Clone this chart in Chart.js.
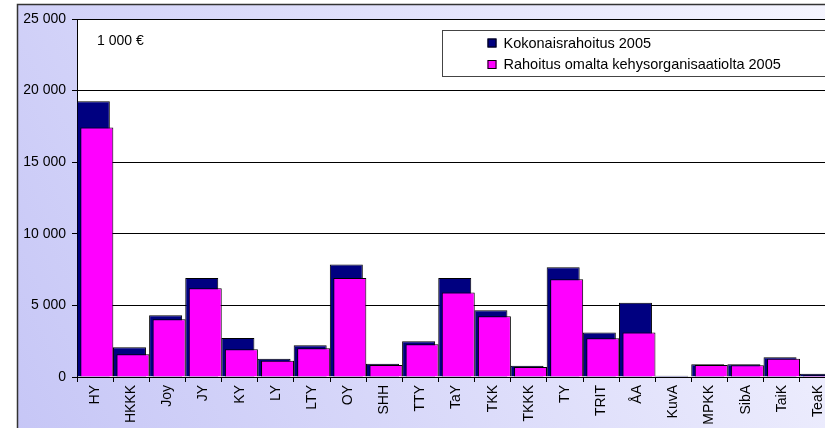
<!DOCTYPE html>
<html>
<head>
<meta charset="utf-8">
<script src="https://cdn.jsdelivr.net/npm/chart.js@4"></script>
<style>
  html, body { margin: 0; padding: 0; background: #ffffff; overflow: hidden; }
  #wrap { width: 825px; height: 428px; overflow: hidden; position: relative; }
  canvas { display: block; }
</style>
</head>
<body>
<div id="wrap"><canvas id="c" width="850" height="445"></canvas></div>
<script>
const categories = ['HY','HKKK','Joy','JY','KY','LY','LTY','OY','SHH','TTY','TaY','TKK','TKKK','TY','TRIT','ÅA','KuvA','MPKK','SibA','TaiK','TeaK'];
const totalFunding = [19250, 2080, 4320, 6910, 2730, 1280, 2220, 7850, 930, 2500, 6910, 4670, 790, 7660, 3100, 5180, 90, 890, 890, 1380, 230];
const ownFunding = [17430, 1590, 4040, 6190, 1940, 1140, 2010, 6910, 840, 2290, 5900, 4250, 700, 6830, 2710, 3100, 20, 840, 820, 1280, 120];
const seriesNames = ['Kokonaisrahoitus 2005', 'Rahoitus omalta kehysorganisaatiolta 2005'];
const unitLabel = '1 000 €';
const yTicks = [0, 5000, 10000, 15000, 20000, 25000];

const FONT = '"Liberation Sans", Arial, sans-serif';

function fmt(v) {
  return String(v).replace(/\B(?=(\d{3})+(?!\d))/g, ' ');
}

const bgPlugin = {
  id: 'bg',
  beforeDraw(chart) {
    const ctx = chart.ctx;
    const W = chart.width, H = chart.height;
    const ca = chart.chartArea;
    ctx.save();
    ctx.fillStyle = '#ffffff';
    ctx.fillRect(0, 0, W, H);
    const g = ctx.createLinearGradient(17, H, W, 4);
    g.addColorStop(0, '#c6c6f6');
    g.addColorStop(1, '#f6f6ff');
    ctx.fillStyle = g;
    ctx.fillRect(17, 4, W - 17, H - 4);
    ctx.strokeStyle = '#333333';
    ctx.lineWidth = 1.5;
    ctx.strokeRect(17.5, 4.5, W + 10, H + 10);
    ctx.fillStyle = '#ffffff';
    ctx.fillRect(ca.left, ca.top, ca.right - ca.left, ca.bottom - ca.top);
    ctx.restore();
  },
  afterDraw(chart) {
    const ctx = chart.ctx;
    const ca = chart.chartArea;
    ctx.save();
    // unit label
    ctx.fillStyle = '#000000';
    ctx.font = '14px ' + FONT;
    ctx.textBaseline = 'alphabetic';
    ctx.textAlign = 'left';
    ctx.fillText(unitLabel, ca.left + 20, ca.top + 26);
    // legend box
    const lx = ca.left + 365.5, ly = ca.top + 11.5;
    ctx.fillStyle = '#ffffff';
    ctx.fillRect(lx, ly, 500, 46);
    ctx.strokeStyle = '#444444';
    ctx.lineWidth = 1;
    ctx.strokeRect(lx, ly, 500, 46);
    ctx.font = '14.5px ' + FONT;
    chart.data.datasets.forEach((ds, i) => {
      const y = ly + 8 + i * 21.5;
      ctx.fillStyle = ds.backgroundColor;
      ctx.fillRect(lx + 45, y, 9, 9);
      ctx.strokeStyle = '#000000';
      ctx.strokeRect(lx + 45.5, y + 0.5, 8, 8);
      ctx.fillStyle = '#000000';
      ctx.fillText(ds.label, lx + 61, y + 9);
    });
    ctx.restore();
  }
};

new Chart(document.getElementById('c'), {
  type: 'bar',
  data: {
    labels: categories,
    datasets: [
      {
        label: seriesNames[0],
        data: totalFunding,
        backgroundColor: '#000080',
        borderColor: '#000000',
        borderWidth: 1,
        order: 1
      },
      {
        label: seriesNames[1],
        data: ownFunding,
        backgroundColor: '#ff00ff',
        borderColor: '#000000',
        borderWidth: 1,
        order: 0
      }
    ]
  },
  options: {
    responsive: false,
    animation: false,
    categoryPercentage: -7 / 36.15,
    barPercentage: -9.43,
    layout: { padding: { left: 17, top: 19, right: 14, bottom: 0 } },
    plugins: {
      legend: { display: false },
      tooltip: { enabled: false },
      title: { display: false }
    },
    scales: {
      x: {
        offset: true,
        grid: {
          display: true,
          drawOnChartArea: false,
          offset: true,
          color: '#000000',
          tickLength: 5,
          lineWidth: 1
        },
        border: { display: true, color: '#000000', width: 1 },
        ticks: {
          color: '#000000',
          font: { family: FONT, size: 14 },
          maxRotation: 90,
          minRotation: 90,
          padding: 3,
          autoSkip: false
        },
        afterFit(scale) { scale.height = 68; }
      },
      y: {
        min: 0,
        max: 25000,
        afterBuildTicks(scale) { scale.ticks = yTicks.map(v => ({ value: v })); },
        grid: {
          color: '#000000',
          lineWidth: 1,
          tickLength: 5,
          drawTicks: true
        },
        border: { display: true, color: '#000000', width: 1 },
        ticks: {
          color: '#000000',
          font: { family: FONT, size: 14 },
          padding: 6,
          callback: (v) => fmt(v)
        },
        afterFit(scale) { scale.width = 60; }
      }
    }
  },
  plugins: [bgPlugin]
});
</script>
</body>
</html>
